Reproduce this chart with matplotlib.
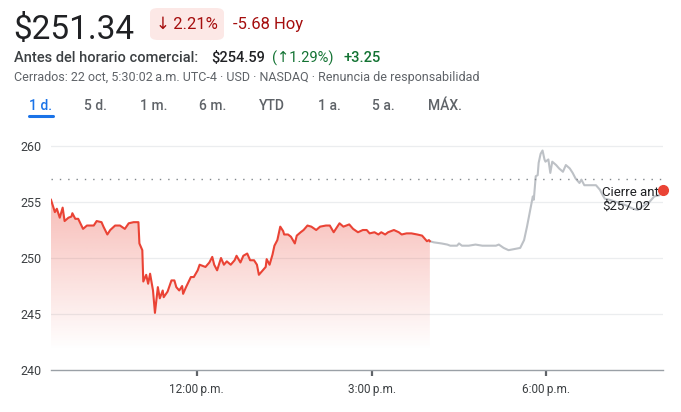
import numpy as np
import matplotlib.pyplot as plt
from matplotlib.patches import FancyBboxPatch

plt.rcParams['font.family'] = ['Roboto', 'DejaVu Sans']

# regular session (red) and after hours (gray), times as HH:MM
red_times = ["9:30", "9:34", "9:36", "9:39", "9:42", "9:44", "9:48", "9:51", "9:52", "9:55",
             "9:58", "10:03", "10:07", "10:14", "10:17", "10:22", "10:24", "10:28", "10:31", "10:36",
             "10:41", "10:46", "10:50", "10:55", "11:00", "11:01", "11:04", "11:05", "11:08", "11:10",
             "11:12", "11:15", "11:17", "11:20", "11:22", "11:25", "11:26", "11:30", "11:34", "11:37",
             "11:39", "11:42", "11:45", "11:46", "11:49", "11:54", "11:57", "12:01", "12:03", "12:09",
             "12:13", "12:16", "12:18", "12:21", "12:25", "12:28", "12:31", "12:35", "12:39", "12:41",
             "12:45", "12:48", "12:52", "12:55", "12:59", "13:02", "13:04", "13:08", "13:11", "13:12",
             "13:15", "13:18", "13:20", "13:23", "13:26", "13:29", "13:30", "13:34", "13:37", "13:41",
             "13:43", "13:47", "13:50", "13:54", "13:58", "14:03", "14:07", "14:13", "14:17", "14:21",
             "14:27", "14:31", "14:37", "14:41", "14:46", "14:51", "14:55", "14:58", "15:03", "15:07",
             "15:10", "15:14", "15:17", "15:23", "15:28", "15:31", "15:36", "15:41", "15:47", "15:52",
             "15:55", "15:57", "15:59", "16:00"]
red_prices = [255.2, 254.1, 254.4, 253.6, 254.5, 253.3, 253.6, 253.7, 254.0, 253.5,
              253.5, 252.6, 252.9, 252.9, 253.3, 253.2, 252.8, 252.1, 252.5, 252.9,
              252.9, 252.6, 253.1, 253.2, 253.2, 251.3, 250.7, 247.9, 248.5, 247.7,
              248.6, 247.1, 245.1, 247.4, 246.4, 247.1, 246.5, 247.0, 248.0, 248.0,
              247.4, 247.1, 247.5, 246.8, 247.4, 248.3, 248.3, 248.9, 249.4, 249.2,
              249.6, 250.1, 249.4, 248.9, 250.0, 249.4, 249.7, 249.4, 249.8, 250.2,
              249.6, 250.2, 250.4, 249.8, 249.8, 249.4, 248.5, 248.9, 249.2, 249.9,
              249.4, 250.3, 251.1, 251.6, 252.8, 252.4, 252.1, 252.1, 251.9, 251.3,
              252.0, 252.3, 252.5, 252.9, 252.8, 252.5, 252.8, 252.9, 252.9, 252.3,
              253.1, 252.8, 253.0, 252.6, 252.3, 252.5, 252.5, 252.2, 252.3, 252.1,
              252.3, 252.1, 252.3, 252.5, 252.3, 252.1, 252.2, 252.2, 252.1, 252.0,
              251.7, 251.5, 251.6, 251.5]
ah_times = ["16:00", "16:04", "16:12", "16:18", "16:21", "16:28", "16:30", "16:33", "16:37", "16:40",
            "16:47", "16:54", "16:57", "17:08", "17:11", "17:16", "17:21", "17:27", "17:33", "17:37",
            "17:40", "17:44", "17:46", "17:47", "17:49", "17:51", "17:52", "17:54", "17:56", "17:58",
            "17:59", "18:02", "18:04", "18:06", "18:10", "18:13", "18:17", "18:20", "18:24", "18:27",
            "18:30", "18:34", "18:36", "18:39", "18:46", "18:51", "18:55", "18:58", "19:00", "19:05",
            "19:12", "19:22", "19:29", "19:34", "19:39", "19:46", "19:51", "19:56"]
ah_prices = [251.5, 251.4, 251.3, 251.2, 251.1, 251.1, 251.3, 251.1, 251.1, 251.1,
             251.2, 251.1, 251.1, 251.1, 251.2, 250.9, 250.7, 250.8, 250.9, 251.6,
             252.8, 254.6, 255.5, 255.2, 257.3, 257.4, 258.5, 259.3, 259.6, 258.8,
             258.6, 258.8, 257.6, 258.6, 258.3, 258.0, 257.7, 258.3, 258.0, 257.6,
             257.1, 256.7, 257.0, 256.5, 256.5, 256.5, 256.1, 255.6, 255.3, 255.2,
             255.0, 254.7, 254.4, 254.3, 254.6, 255.0, 255.5, 255.6]
prev_close = 257.02
last_time, last_price = "20:00", 256.1
xtick_times = ["12:00", "15:00", "18:00"]
xtick_labels = ["12:00\u2009p.m.", "3:00\u2009p.m.", "6:00\u2009p.m."]
yticks = [240, 245, 250, 255, 260]
ranges = ["1 d.", "5 d.", "1 m.", "6 m.", "YTD", "1 a.", "5 a.", "MÁX."]


def minutes(hhmm):
    h, m = hhmm.split(":")
    return int(h) * 60 + int(m) - 570  # minutes after 9:30


t_red = np.array([minutes(s) for s in red_times])
v_red = np.array(red_prices)
t_ah = np.array([minutes(s) for s in ah_times])
v_ah = np.array(ah_prices)

W, H = 681, 412
fig = plt.figure(figsize=(W / 100, H / 100), dpi=100)


def fx(x):
    return x / W


def fy(y):
    return 1 - y / H


# header
fig.text(fx(13), fy(39), "$251.34", fontsize=24, color="#202124", va="baseline")
fig.patches.append(FancyBboxPatch((fx(150), fy(40)), fx(74), 32 / H,
                                  boxstyle="round,pad=0,rounding_size=0.012",
                                  transform=fig.transFigure, fc="#fce8e6", ec="none"))
fig.text(fx(187), fy(24), "\u2193\u20092.21%", fontsize=12, color="#a50e0e", ha="center", va="center")
fig.text(fx(233), fy(24), "-5.68 Hoy", fontsize=12, color="#a50e0e", va="center")
fig.text(fx(14), fy(58), "Antes del horario comercial:", fontsize=10.5, color="#3c4043",
         va="center", fontweight="medium")
fig.text(fx(211), fy(58), "$254.59", fontsize=10.5, color="#202124", va="center", fontweight="medium")
fig.text(fx(272), fy(58), "(\u21911.29%)", fontsize=10.5, color="#137333", va="center")
fig.text(fx(343), fy(58), "+3.25", fontsize=10.5, color="#137333", va="center", fontweight="medium")
fig.text(fx(14), fy(78), "Cerrados: 22 oct, 5:30:02\u2009a.m. UTC-4 · USD · NASDAQ · Renuncia de responsabilidad",
         fontsize=9, color="#5f6368", va="center")

tab_x = [29, 84, 140, 199, 259, 318, 372, 428]
for i, (lab, x) in enumerate(zip(ranges, tab_x)):
    fig.text(fx(x), fy(106), lab, fontsize=10, va="center",
             color="#1a73e8" if i == 0 else "#5f6368", fontweight="medium")
fig.add_artist(plt.Line2D([fx(29), fx(53)], [fy(116), fy(116)], color="#1a73e8", lw=2.2,
                          solid_capstyle="round"))

# chart
ax = fig.add_axes([fx(51), fy(370), (663 - 51) / W, 240 / H])
ymin, ymax = 240, 261.43
fill_bottom = 241.8

for yv in yticks[1:]:
    ax.axhline(yv, color="#ebedef", lw=0.9, zorder=0)

poly = ax.fill_between(t_red, v_red, fill_bottom, color="none", lw=0)
n = 256
img = np.zeros((n, 1, 4))
img[..., 0], img[..., 1], img[..., 2] = 234 / 255, 67 / 255, 53 / 255
img[:, 0, 3] = np.linspace(0.0, 0.36, n)
im = ax.imshow(img, extent=[0, t_red[-1], fill_bottom, 255.5], origin="lower",
               aspect="auto", zorder=1, interpolation="bilinear")
im.set_clip_path(poly.get_paths()[0], transform=ax.transData)

ax.plot(t_ah, v_ah, color="#bdc1c6", lw=1.5, zorder=2)
ax.plot(t_red, v_red, color="#ea4335", lw=1.5, zorder=3)
ax.axhline(prev_close, color="#80868b", lw=1, ls=(0, (1, 5)), zorder=2)

ax.text(minutes("18:57"), prev_close - 0.6, "Cierre ant\n$257.02", fontsize=9.5,
        color="#202124", va="top", ha="left", linespacing=1.05, zorder=4)
ax.plot([minutes(last_time)], [last_price], "o", color="#ea4335", ms=7, zorder=5, clip_on=False)

ax.set_xlim(0, minutes("20:00"))
ax.set_ylim(ymin, ymax)
ax.set_yticks(yticks)
ax.set_xticks([minutes(s) for s in xtick_times])
ax.set_xticklabels(xtick_labels)
for s in ["top", "right", "left"]:
    ax.spines[s].set_visible(False)
ax.spines["bottom"].set_color("#9aa0a6")
ax.spines["bottom"].set_linewidth(1)
ax.tick_params(axis="y", length=0, pad=7, labelsize=9, labelcolor="#3c4043")
ax.tick_params(axis="x", length=4, width=1.6, color="#5f6368", pad=5, labelsize=8.5,
               labelcolor="#3c4043")
ax.patch.set_alpha(0)

fig.savefig("out.png", dpi=100)
